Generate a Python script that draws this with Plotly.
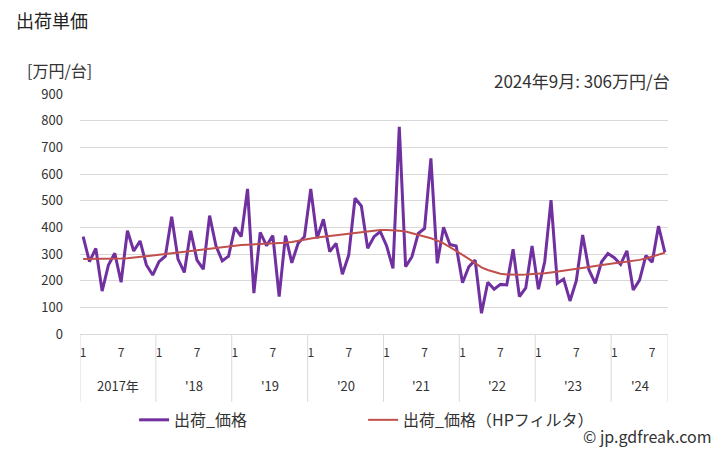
import plotly.graph_objects as go

# ---- data ----
year_labels = ["2017年", "'18", "'19", "'20", "'21", "'22", "'23", "'24"]
month_tick_labels = ["1", "7"]

price = [
    365, 271, 321, 161, 259, 303, 194, 387, 311, 349, 259, 221,   # 2017
    271, 292, 440, 281, 231, 387, 277, 243, 444, 331, 274, 292,   # 2018
    400, 365, 544, 153, 381, 331, 369, 140, 369, 267, 340, 365,   # 2019
    544, 359, 430, 309, 340, 224, 296, 509, 480, 321, 365, 384,   # 2020
    330, 246, 777, 252, 290, 377, 396, 659, 265, 400, 336, 330,   # 2021
    192, 252, 277, 78, 194, 168, 186, 184, 318, 140, 173, 330,    # 2022
    168, 271, 502, 190, 206, 124, 200, 371, 240, 190, 271, 302,   # 2023
    286, 261, 312, 165, 202, 294, 269, 405, 306,                  # 2024 (Jan-Sep)
]

hp_trend = [
    281, 281, 281, 281, 282, 282, 283, 284, 286, 288, 291, 294,
    297, 300, 303, 306, 309, 312, 315, 318, 321, 324, 327, 330,
    333, 334, 335, 336, 337, 338, 339, 340, 342, 345, 350, 354,
    358, 362, 365, 368, 370, 372, 375, 378, 381, 385, 388, 390,
    390, 389, 387, 384, 378, 372, 366, 359, 350, 340, 326, 313,
    297, 282, 265, 250, 240, 232, 226, 223, 222, 222, 223, 224,
    226, 228, 231, 234, 237, 240, 243, 247, 251, 255, 259, 262,
    265, 268, 271, 274, 278, 283, 290, 297, 305,
]

n = len(price)
x_idx = list(range(n))

FONT = "Noto Sans CJK JP"
TXT = "#333333"
GRID = "#d9d9d9"

fig = go.Figure()
fig.add_trace(go.Scatter(x=x_idx, y=price, mode="lines", name="出荷_価格",
                         line=dict(color="#7030a0", width=3)))
fig.add_trace(go.Scatter(x=x_idx, y=hp_trend, mode="lines", name="出荷_価格（HPフィルタ）",
                         line=dict(color="#c0504d", width=2)))

# month ticks (1 and 7 of each year)
tickvals, ticktext = [], []
for i in range(n):
    m = i % 12
    if m == 0:
        tickvals.append(i); ticktext.append(month_tick_labels[0])
    elif m == 6:
        tickvals.append(i); ticktext.append(month_tick_labels[1])

shapes = []
annotations = []
# year dividers and year labels
n_years = len(year_labels)
for k in range(n_years + 1):
    xb = min(12 * k - 0.5, n - 0.5)
    shapes.append(dict(type="line", xref="x", yref="paper", x0=xb, x1=xb,
                       y0=0, y1=-0.283, line=dict(color=GRID, width=1)))
for k, lab in enumerate(year_labels):
    x0 = 12 * k - 0.5
    x1 = min(12 * k + 11.5, n - 0.5)
    annotations.append(dict(text=lab, xref="x", yref="paper", x=(x0 + x1) / 2, y=-0.2125,
                            showarrow=False, xanchor="center", yanchor="middle",
                            font=dict(family=FONT, size=13, color=TXT)))

annotations += [
    dict(text="[万円/台]", xref="paper", yref="paper", x=-0.0935, y=1.10,
         xanchor="left", yanchor="middle", showarrow=False,
         font=dict(family=FONT, size=16, color=TXT)),
    dict(text="2024年9月: 306万円/台", xref="paper", yref="paper", x=1.0068, y=1.0583,
         xanchor="right", yanchor="middle", showarrow=False,
         font=dict(family=FONT, size=17, color=TXT)),
    dict(text="© jp.gdfreak.com", xref="paper", yref="paper", x=1.078, y=-0.425,
         xanchor="right", yanchor="middle", showarrow=False,
         font=dict(family=FONT, size=16, color=TXT)),
]

fig.update_layout(
    width=728, height=450,
    margin=dict(l=80, r=60, t=94, b=116),
    paper_bgcolor="white", plot_bgcolor="white",
    title=dict(text="出荷単価", x=16 / 728, xanchor="left", y=1 - 21.7 / 450, yanchor="middle",
               font=dict(family=FONT, size=18, color="#222222")),
    xaxis=dict(range=[-0.5, n - 0.5], tickvals=tickvals, ticktext=ticktext,
               showgrid=False, zeroline=False, showline=True, linecolor=GRID, linewidth=1,
               ticks="", ticklabelstandoff=8, automargin=False,
               tickfont=dict(family=FONT, size=12, color=TXT), fixedrange=True),
    yaxis=dict(range=[0, 900], dtick=100, showgrid=True, gridcolor=GRID, gridwidth=1,
               zeroline=False, showline=False, ticks="", ticklabelstandoff=16, automargin=False,
               tickfont=dict(family=FONT, size=13, color=TXT), fixedrange=True),
    legend=dict(orientation="h", x=0.092, xanchor="left", y=-0.358, yanchor="middle",
                font=dict(family=FONT, size=16, color=TXT),
                entrywidth=184, entrywidthmode="pixels", bgcolor="rgba(0,0,0,0)"),
    shapes=shapes,
    annotations=annotations,
    showlegend=True,
)

fig.write_html("out.html", config={"displayModeBar": False},
               post_script="document.body.style.margin='0';")
